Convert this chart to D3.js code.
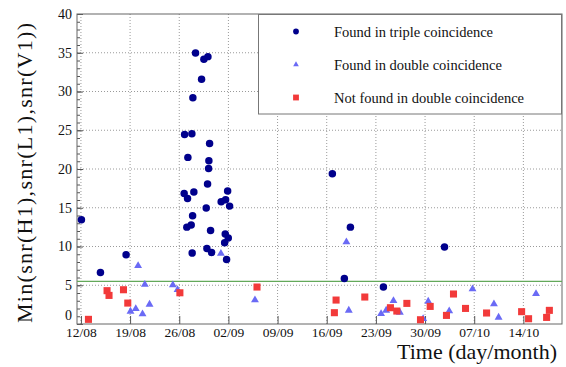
<!DOCTYPE html>
<html>
<head>
<meta charset="utf-8">
<script src="https://cdn.jsdelivr.net/npm/d3@7"></script>
<style>
  body { margin: 0; background: #fff; }
</style>
</head>
<body>
<div id="chart"></div>
<script>
// days counted from 12/08 00:00, snr = min over the three detectors
var startDate = Date.UTC(2009, 7, 12);

var tripleDays = [0.07, 2.78, 6.43, 14.76, 15.80, 18.32, 15.23, 18.22, 18.18, 18.03, 14.70, 15.18, 16.08,
    20.89, 20.60, 19.97, 21.17, 17.84, 15.90, 15.70, 15.08, 18.46, 20.55, 20.98, 20.46, 17.94, 18.60,
    15.84, 20.74, 16.32, 17.51, 18.08, 17.18, 15.94, 35.80, 38.37, 37.51, 43.07, 51.77];
var tripleSnr = [13.45, 6.65, 8.93, 24.45, 24.54, 23.29, 21.5, 21.06, 20.07, 18.05, 16.84, 16.2, 17.02,
    17.15, 16.03, 15.77, 15.21, 14.96, 13.97, 12.76, 12.5, 12.07, 11.6, 11.09, 10.48, 9.75, 9.23,
    9.15, 8.33, 34.98, 34.17, 34.5, 31.59, 29.18, 19.38, 12.5, 5.88, 4.77, 9.93];

var doubleDays = [8.14, 9.10, 7.06, 7.81, 8.77, 9.77, 13.09, 13.76, 19.93, 24.78, 37.80, 38.14, 42.74,
    43.46, 44.50, 45.41, 49.45, 48.73, 52.44, 55.76, 58.81, 59.47, 64.80];
var doubleSnr = [7.52, 5.1, 1.63, 1.97, 1.29, 2.53, 5.03, 4.42, 9.1, 3.09, 10.57, 1.76, 1.33,
    1.76, 3.0, 1.5, 2.92, 0.68, 1.67, 4.51, 2.58, 0.85, 3.9];

var missedDays = [1.07, 3.72, 4.00, 6.06, 6.67, 14.09, 25.07, 36.33, 36.09, 40.42, 44.07, 44.98, 46.41,
    49.73, 48.35, 53.05, 52.05, 54.76, 57.76, 62.75, 63.74, 66.31, 66.70];
var missedSnr = [0.6, 4.3, 3.69, 4.42, 2.7, 4.03, 4.77, 3.09, 1.46, 3.48, 2.1, 1.67, 2.66,
    2.27, 0.55, 3.87, 1.11, 2.01, 1.42, 1.59, 0.68, 0.85, 1.76];

var threshold = 5.5;
var tickDays = [0, 7, 14, 21, 28, 35, 42, 49, 56, 63];
var yTicks = [0, 5, 10, 15, 20, 25, 30, 35, 40];
var legendLabels = ["Found in triple coincidence", "Found in double coincidence", "Not found in double coincidence"];

var day = 86400000;
function toDate(d) { return new Date(startDate + d * day); }

var serif = "'Liberation Serif', 'Times New Roman', Times, Tinos, 'DejaVu Serif', 'Noto Serif', serif";
var width = 566, height = 367;
var margin = {top: 14, right: 4, bottom: 43, left: 77};

var svg = d3.select("#chart")
    .append("svg")
    .attr("width", width)
    .attr("height", height)
    .attr("font-family", serif);

var x = d3.scaleUtc()
    .domain([toDate(-0.56), toDate(68.5)])
    .range([margin.left, width - margin.right]);

var y = d3.scaleLinear()
    .domain([0, 40])
    .range([height - margin.bottom, margin.top]);

var x0 = margin.left, x1 = width - margin.right;
var y0 = height - margin.bottom, y1 = margin.top;

//dotted grid
svg.append("g")
    .selectAll("line")
    .data(tickDays)
    .enter()
    .append("line")
        .attr("x1", function(d) { return x(toDate(d)); })
        .attr("x2", function(d) { return x(toDate(d)); })
        .attr("y1", y0)
        .attr("y2", y1)
        .attr("stroke", "#9a9a9a")
        .attr("stroke-dasharray", "1,2");

svg.append("g")
    .selectAll("line")
    .data(yTicks.slice(1, -1))
    .enter()
    .append("line")
        .attr("x1", x0)
        .attr("x2", x1)
        .attr("y1", function(d) { return y(d); })
        .attr("y2", function(d) { return y(d); })
        .attr("stroke", "#9a9a9a")
        .attr("stroke-dasharray", "1,2");

//x axis: ticks point inwards, labels dd/mm
var xAxis = d3.axisBottom(x)
    .tickValues(tickDays.map(toDate))
    .tickFormat(d3.utcFormat("%d/%m"))
    .tickSizeInner(-8)
    .tickSizeOuter(0)
    .tickPadding(3);

var gx = svg.append("g")
    .attr("transform", "translate(0," + y0 + ")")
    .call(xAxis)
    .attr("font-family", serif)
    .attr("font-size", 13.5);
gx.select(".domain").remove();
gx.selectAll("line").attr("stroke", "#555");
gx.selectAll("text").attr("fill", "#111");

//y axis, minor ticks every unit
var gyMinor = svg.append("g")
    .attr("transform", "translate(" + x0 + ",0)")
    .call(d3.axisLeft(y).ticks(40).tickSizeInner(-3).tickSizeOuter(0).tickFormat(""));
gyMinor.select(".domain").remove();
gyMinor.selectAll("line").attr("stroke", "#555");

var gy = svg.append("g")
    .attr("transform", "translate(" + x0 + ",0)")
    .call(d3.axisLeft(y).tickValues(yTicks).tickSizeInner(-6).tickSizeOuter(0).tickPadding(5))
    .attr("font-family", serif)
    .attr("font-size", 14);
gy.select(".domain").remove();
gy.selectAll("line").attr("stroke", "#555");
gy.selectAll("text").attr("fill", "#111");
//the zero label sits a little higher, clear of the date labels
gy.selectAll("text").filter(function(d) { return d === 0; }).attr("dy", "-0.3em");

//frame
svg.append("rect")
    .attr("x", x0)
    .attr("y", y1)
    .attr("width", x1 - x0)
    .attr("height", y0 - y1)
    .attr("fill", "none")
    .attr("stroke", "#666");

//snr threshold
svg.append("line")
    .attr("x1", x0)
    .attr("x2", x1)
    .attr("y1", y(threshold))
    .attr("y2", y(threshold))
    .attr("stroke", "#63a95a")
    .attr("stroke-width", 1.2);

var series = [
    {days: tripleDays, snr: tripleSnr, type: d3.symbolCircle, size: 44, color: "#00008c", legendSize: 26},
    {days: doubleDays, snr: doubleSnr, type: d3.symbolTriangle, size: 27, color: "#6a6af5", legendSize: 14},
    {days: missedDays, snr: missedSnr, type: d3.symbolSquare, size: 50, color: "#f23a3a", legendSize: 34}
];

series.forEach(function(s) {
    svg.append("g")
        .selectAll("path")
        .data(d3.range(s.days.length))
        .enter()
        .append("path")
            .attr("d", d3.symbol().type(s.type).size(s.size))
            .attr("transform", function(i) {
                return "translate(" + x(toDate(s.days[i])) + "," + y(s.snr[i]) + ")";
            })
            .attr("fill", s.color);
});

//legend
var legend = svg.append("g");
legend.append("rect")
    .attr("x", 258.5)
    .attr("y", 14.5)
    .attr("width", 303)
    .attr("height", 99.5)
    .attr("fill", "#fff")
    .attr("stroke", "#777");

var rowY = [31.5, 64.5, 97.5];
series.forEach(function(s, i) {
    legend.append("path")
        .attr("d", d3.symbol().type(s.type).size(s.legendSize))
        .attr("transform", "translate(296," + rowY[i] + ")")
        .attr("fill", s.color);
    legend.append("text")
        .attr("x", 334)
        .attr("y", rowY[i] + 5)
        .attr("font-size", 14.5)
        .attr("fill", "#111")
        .text(legendLabels[i]);
});

//axis titles
svg.append("text")
    .attr("x", 557)
    .attr("y", 359)
    .attr("text-anchor", "end")
    .attr("font-size", 22)
    .attr("fill", "#111")
    .text("Time (day/month)");

svg.append("text")
    .attr("transform", "translate(32,23) rotate(-90)")
    .attr("text-anchor", "end")
    .attr("font-size", 22)
    .attr("textLength", 300)
    .attr("lengthAdjust", "spacing")
    .attr("fill", "#111")
    .text("Min(snr(H1),snr(L1),snr(V1))");
</script>
</body>
</html>
